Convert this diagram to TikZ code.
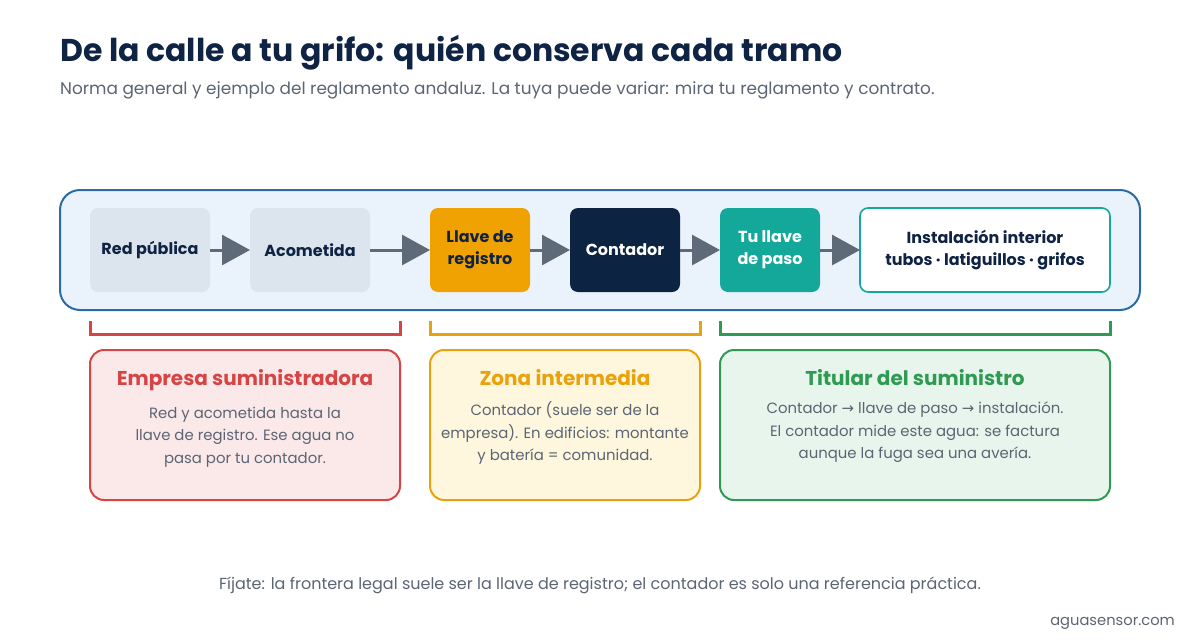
\documentclass[tikz,border=0pt]{standalone}
\usepackage{fontspec}
\setmainfont{Poppins}
\newfontfamily\arrowfont{DejaVu Sans}
\usepackage{xcolor}
\usetikzlibrary{positioning,arrows.meta}
\definecolor{ASnavy}{HTML}{0F2444}
\definecolor{ASgrey}{HTML}{5B6573}
\definecolor{ASpanel}{HTML}{EAF3FB}
\definecolor{ASpanelline}{HTML}{2C6CA4}
\definecolor{ASlight}{HTML}{DCE5EE}
\definecolor{ASorange}{HTML}{F0A202}
\definecolor{ASdark}{HTML}{0C2341}
\definecolor{ASteal}{HTML}{14A89B}
\definecolor{ASarrow}{HTML}{5E6A77}
\definecolor{ASred}{HTML}{D64545}
\definecolor{ASredfill}{HTML}{FBE8E9}
\definecolor{ASyellow}{HTML}{E9A20C}
\definecolor{ASyellowfill}{HTML}{FFF6DE}
\definecolor{ASgreen}{HTML}{2E9A52}
\definecolor{ASgreenfill}{HTML}{E8F5EC}
\tikzset{
  stage/.style={rounded corners=8pt,align=center,inner sep=0pt,outer sep=0pt,minimum height=84pt,
    font=\fontsize{16}{22}\selectfont\bfseries,text=ASnavy},
  pipe/.style={-{Triangle[length=28pt,width=30pt]},line width=3pt,draw=ASarrow},
  card/.style={draw,line width=2pt,rounded corners=14pt,minimum height=150pt,outer sep=0pt,inner sep=0pt},
  cardtitle/.style={font=\fontsize{20}{24}\selectfont\bfseries,inner sep=0pt},
  cardtext/.style={font=\fontsize{14.9}{22.5}\selectfont,text=ASgrey,align=center,inner sep=0pt},
  bracket/.style={line width=3pt}
}
\begin{document}
\begin{tikzpicture}[x=1pt,y=-1pt]
\useasboundingbox[fill=white] (0,0) rectangle (1200,640);
% header
\node[anchor=base west,inner sep=0pt,font=\fontsize{31.5}{36}\selectfont\bfseries,text=ASnavy] (title) at (60,61)
  {De la calle a tu grifo: quién conserva cada tramo};
\node[anchor=base west,inner sep=0pt,font=\fontsize{16.9}{20}\selectfont,text=ASgrey] (subtitle) at (60,94)
  {Norma general y ejemplo del reglamento andaluz. La tuya puede variar: mira tu reglamento y contrato.};
% pipeline
\node[draw=ASpanelline,fill=ASpanel,line width=2pt,rounded corners=20pt,minimum width=1080pt,minimum height=120pt] (panel) at (600,250) {};
\node[stage,fill=ASlight,minimum width=120pt] (red) at (150,250) {Red pública};
\node[stage,fill=ASlight,minimum width=120pt,right=40pt of red] (acom) {Acometida};
\node[stage,fill=ASorange,minimum width=100pt,right=60pt of acom] (llave) {Llave de\\registro};
\node[stage,fill=ASdark,text=white,minimum width=110pt,right=40pt of llave] (cont) {Contador};
\node[stage,fill=ASteal,text=white,minimum width=100pt,right=40pt of cont] (paso) {Tu llave\\de paso};
\node[stage,fill=white,draw=ASteal,line width=1.6pt,minimum width=250pt,right=40pt of paso] (inst) {Instalación interior\\tubos · latiguillos · grifos};
\draw[pipe] (red) -- (acom);
\draw[pipe] (acom) -- (llave);
\draw[pipe] (llave) -- (cont);
\draw[pipe] (cont) -- (paso);
\draw[pipe] (paso) -- (inst);
% cards
\node[card,draw=ASred,fill=ASredfill,minimum width=310pt] (empresa) at (245,425) {};
\node[card,draw=ASyellow,fill=ASyellowfill,minimum width=270pt] (zona) at (565,425) {};
\node[card,draw=ASgreen,fill=ASgreenfill,minimum width=390pt] (titular) at (915,425) {};
\node[cardtitle,text=ASred,below=19pt of empresa.north] (empresaT) {Empresa suministradora};
\node[cardtext,below=16pt of empresaT] (empresaB) {Red y acometida hasta la\\llave de registro. Ese agua no\\pasa por tu contador.};
\node[cardtitle,text=ASyellow,below=19pt of zona.north] (zonaT) {Zona intermedia};
\node[cardtext,below=16pt of zonaT] (zonaB) {Contador (suele ser de la\\empresa). En edificios: montante\\y batería = comunidad.};
\node[cardtitle,text=ASgreen,below=19pt of titular.north] (titularT) {Titular del suministro};
\node[cardtext,below=16pt of titularT] (titularB) {Contador {\arrowfont →} llave de paso {\arrowfont →} instalación.\\El contador mide este agua: se factura\\aunque la fuga sea una avería.};
% brackets
\draw[bracket,ASred] ([yshift=29pt]empresa.north west) -- ([yshift=16pt]empresa.north west) -- ([yshift=16pt]empresa.north east) -- ([yshift=29pt]empresa.north east);
\draw[bracket,ASyellow] ([yshift=29pt]zona.north west) -- ([yshift=16pt]zona.north west) -- ([yshift=16pt]zona.north east) -- ([yshift=29pt]zona.north east);
\draw[bracket,ASgreen] ([yshift=29pt]titular.north west) -- ([yshift=16pt]titular.north west) -- ([yshift=16pt]titular.north east) -- ([yshift=29pt]titular.north east);
% footer
\node[anchor=base,inner sep=0pt,font=\fontsize{16}{18}\selectfont,text=ASgrey] (nota) at (600,589)
  {Fíjate: la frontera legal suele ser la llave de registro; el contador es solo una referencia práctica.};
\node[anchor=base east,inner sep=0pt,font=\fontsize{14.7}{18}\selectfont,text=ASgrey] (marca) at (1175,625) {aguasensor.com};
\end{tikzpicture}
\end{document}
